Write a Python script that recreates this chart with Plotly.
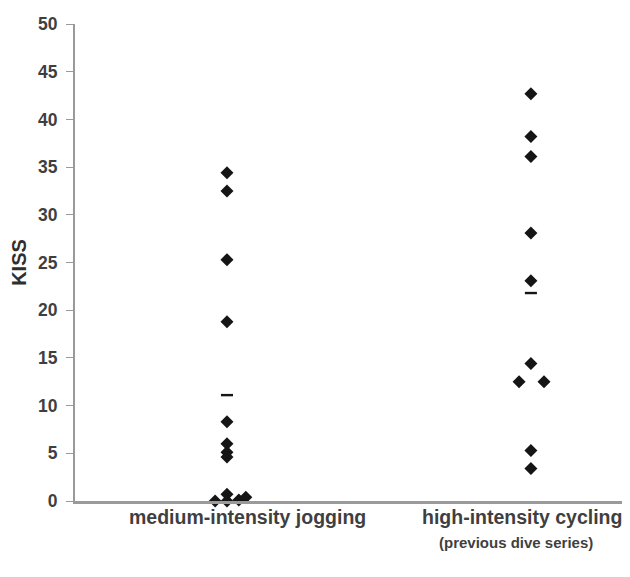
import plotly.graph_objects as go

# ---- data ----
categories = ["medium-intensity jogging", "high-intensity cycling"]
subtitles = ["", "(previous dive series)"]

jogging_values = [34.4, 32.5, 25.3, 18.8, 8.3, 6.0, 5.1, 4.6, 0.0, 0.7, 0.0, 0.1, 0.4]
jogging_jitter = [0, 0, 0, 0, 0, 0, 0, 0, -0.039, 0, 0, 0.039, 0.062]
jogging_mean = 11.1

cycling_values = [42.7, 38.2, 36.1, 28.1, 23.1, 14.4, 12.5, 12.5, 5.3, 3.4]
cycling_jitter = [0, 0, 0, 0, 0, 0, -0.039, 0.043, 0, 0]
cycling_mean = 21.8

y_ticks = [0, 5, 10, 15, 20, 25, 30, 35, 40, 45, 50]

# ---- figure ----
fig = go.Figure()
groups = [(jogging_values, jogging_jitter, jogging_mean),
          (cycling_values, cycling_jitter, cycling_mean)]
ink = "#151515"
for i, (vals, jit, mean) in enumerate(groups):
    pos = i + 1
    fig.add_trace(go.Scatter(
        x=[pos + j for j in jit], y=vals, mode="markers",
        marker=dict(symbol="diamond", size=10, color=ink),
        showlegend=False, cliponaxis=False))
    fig.add_trace(go.Scatter(
        x=[pos], y=[mean], mode="markers",
        marker=dict(symbol="line-ew", size=8.6, color=ink,
                    line=dict(color=ink, width=2.4)),
        showlegend=False, cliponaxis=False))

axis_col = "#9a9a9a"
txt_col = "#3f3f3f"
fig.update_xaxes(range=[0.5, 2.326], showgrid=False, zeroline=False,
                 showline=True, linecolor=axis_col, linewidth=2.5,
                 showticklabels=False, ticks="")
fig.update_yaxes(range=[0, 50], tickvals=y_ticks, showgrid=False, zeroline=False,
                 showline=True, linecolor=axis_col, linewidth=2,
                 ticks="outside", ticklen=7, tickcolor=axis_col, tickwidth=1,
                 ticklabelstandoff=5,
                 tickfont=dict(family="Liberation Sans", size=17.5, color=txt_col,
                               weight="bold"),
                 title=dict(text="KISS", standoff=8,
                            font=dict(family="Liberation Sans", size=20,
                                      color="#2f2f2f", weight="bold")))

label_x_shift = [0.066, -0.03]
sub_x_shift = [0, -0.05]
for i, (cat, sub) in enumerate(zip(categories, subtitles)):
    fig.add_annotation(x=i + 1 + label_x_shift[i], y=-0.0335, xref="x", yref="paper",
                       text=cat, showarrow=False, yanchor="middle",
                       font=dict(family="Liberation Sans", size=19.5, color=txt_col,
                                 weight="bold"))
    if sub:
        fig.add_annotation(x=i + 1 + sub_x_shift[i], y=-0.086, xref="x", yref="paper",
                           text=sub, showarrow=False, yanchor="middle",
                           font=dict(family="Liberation Sans", size=15, color=txt_col,
                                     weight="bold"))

fig.update_layout(width=622, height=569, margin=dict(l=67, r=0, t=16, b=76),
                  plot_bgcolor="white", paper_bgcolor="white")
fig.write_html("out.html")
